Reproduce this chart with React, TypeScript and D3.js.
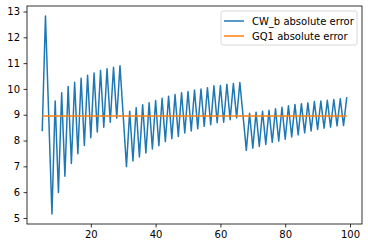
import React, { useEffect, useRef } from 'react';
import * as d3 from 'd3';

// x positions run 5..99
const xValues: number[] = d3.range(5, 100);

const cwB: number[] = [
  8.36, 12.83, 8.98, 5.15, 9.53, 5.99, 9.85, 6.62, 10.09, 7.11,
  10.26, 7.49, 10.41, 7.81, 10.53, 8.11, 10.62, 8.33, 10.71, 8.52,
  10.78, 8.71, 10.84, 8.87, 10.9, 8.95, 6.99, 9.14, 7.21, 9.27,
  7.36, 9.39, 7.52, 9.46, 7.67, 9.55, 7.8, 9.64, 7.96, 9.72,
  8.07, 9.78, 8.16, 9.85, 8.29, 9.9, 8.37, 9.96, 8.46, 10.0,
  8.55, 10.05, 8.61, 10.12, 8.69, 10.13, 8.71, 10.18, 8.81, 10.21,
  8.88, 10.25, 8.94, 7.62, 9.06, 7.7, 9.1, 7.77, 9.14, 7.85,
  9.17, 7.93, 9.23, 7.98, 9.29, 8.05, 9.35, 8.14, 9.4, 8.22,
  9.43, 8.3, 9.46, 8.37, 9.51, 8.43, 9.53, 8.48, 9.56, 8.52,
  9.59, 8.57, 9.62, 8.58, 9.68,
];

const gq1: number[] = xValues.map(() => 8.95);

const xTicks: number[] = [20, 40, 60, 80, 100];
const yTicks: number[] = [5, 6, 7, 8, 9, 10, 11, 12, 13];
const seriesNames: string[] = ['CW_b absolute error', 'GQ1 absolute error'];
const seriesColors: string[] = ['#1f77b4', '#ff7f0e'];

const App = () => {
  const svgRef = useRef<SVGSVGElement>(null);

  useEffect(() => {
    const svg = d3.select(svgRef.current);
    svg.selectAll('*').remove();

    const width = 368;
    const height = 248;
    const margin = { top: 6, right: 6, bottom: 24, left: 27 };
    const font = 'DejaVu Sans, sans-serif';

    // matplotlib style 5% padding on data limits
    const xMin = d3.min(xValues)!;
    const xMax = d3.max(xValues)!;
    const yMin = d3.min(cwB)!;
    const yMax = d3.max(cwB)!;
    const xPad = (xMax - xMin) * 0.05;
    const yPad = (yMax - yMin) * 0.05;

    const x = d3.scaleLinear()
      .domain([xMin - xPad, xMax + xPad])
      .range([margin.left, width - margin.right]);
    const y = d3.scaleLinear()
      .domain([yMin - yPad, yMax + yPad])
      .range([height - margin.bottom, margin.top]);

    svg.append('rect')
      .attr('width', width).attr('height', height).attr('fill', '#fff');

    const line = d3.line<number>()
      .x((_, i) => x(xValues[i]))
      .y(d => y(d));

    [cwB, gq1].forEach((s, k) => {
      svg.append('path')
        .datum(s)
        .attr('d', line)
        .attr('fill', 'none')
        .attr('stroke', seriesColors[k])
        .attr('stroke-width', 1.5)
        .attr('stroke-linejoin', 'round');
    });

    // axes
    const xAxis = svg.append('g')
      .attr('transform', `translate(0,${height - margin.bottom})`)
      .call(d3.axisBottom(x).tickValues(xTicks).tickSize(3.5).tickPadding(3.5).tickFormat(d3.format('d')));
    const yAxis = svg.append('g')
      .attr('transform', `translate(${margin.left},0)`)
      .call(d3.axisLeft(y).tickValues(yTicks).tickSize(3.5).tickPadding(3.5).tickFormat(d3.format('d')));

    [xAxis, yAxis].forEach(a => {
      a.select('.domain').remove();
      a.selectAll('line').attr('stroke', '#000').attr('stroke-width', 0.8);
      a.selectAll('text')
        .attr('fill', '#000')
        .attr('font-family', font)
        .attr('font-size', 10);
    });

    // frame
    svg.append('rect')
      .attr('x', margin.left)
      .attr('y', margin.top)
      .attr('width', width - margin.left - margin.right)
      .attr('height', height - margin.top - margin.bottom)
      .attr('fill', 'none')
      .attr('stroke', '#000')
      .attr('stroke-width', 0.8);

    // legend
    const lg = svg.append('g').attr('transform', 'translate(221,11)');
    lg.append('rect')
      .attr('width', 136)
      .attr('height', 34)
      .attr('rx', 2)
      .attr('fill', '#fff')
      .attr('fill-opacity', 0.8)
      .attr('stroke', '#d0d0d0')
      .attr('stroke-width', 0.8);

    seriesNames.forEach((name, i) => {
      const yy = 10 + i * 15;
      lg.append('line')
        .attr('x1', 3).attr('x2', 23)
        .attr('y1', yy).attr('y2', yy)
        .attr('stroke', seriesColors[i])
        .attr('stroke-width', 1.5);
      lg.append('text')
        .attr('x', 31)
        .attr('y', yy)
        .attr('dy', '0.35em')
        .attr('font-family', font)
        .attr('font-size', 10)
        .attr('fill', '#000')
        .text(name);
    });
  }, []);

  return (
    <div style={{ position: 'absolute', left: 0, top: 0 }}>
      <svg ref={svgRef} width={368} height={248} style={{ display: 'block' }}></svg>
    </div>
  );
};

export default App;
